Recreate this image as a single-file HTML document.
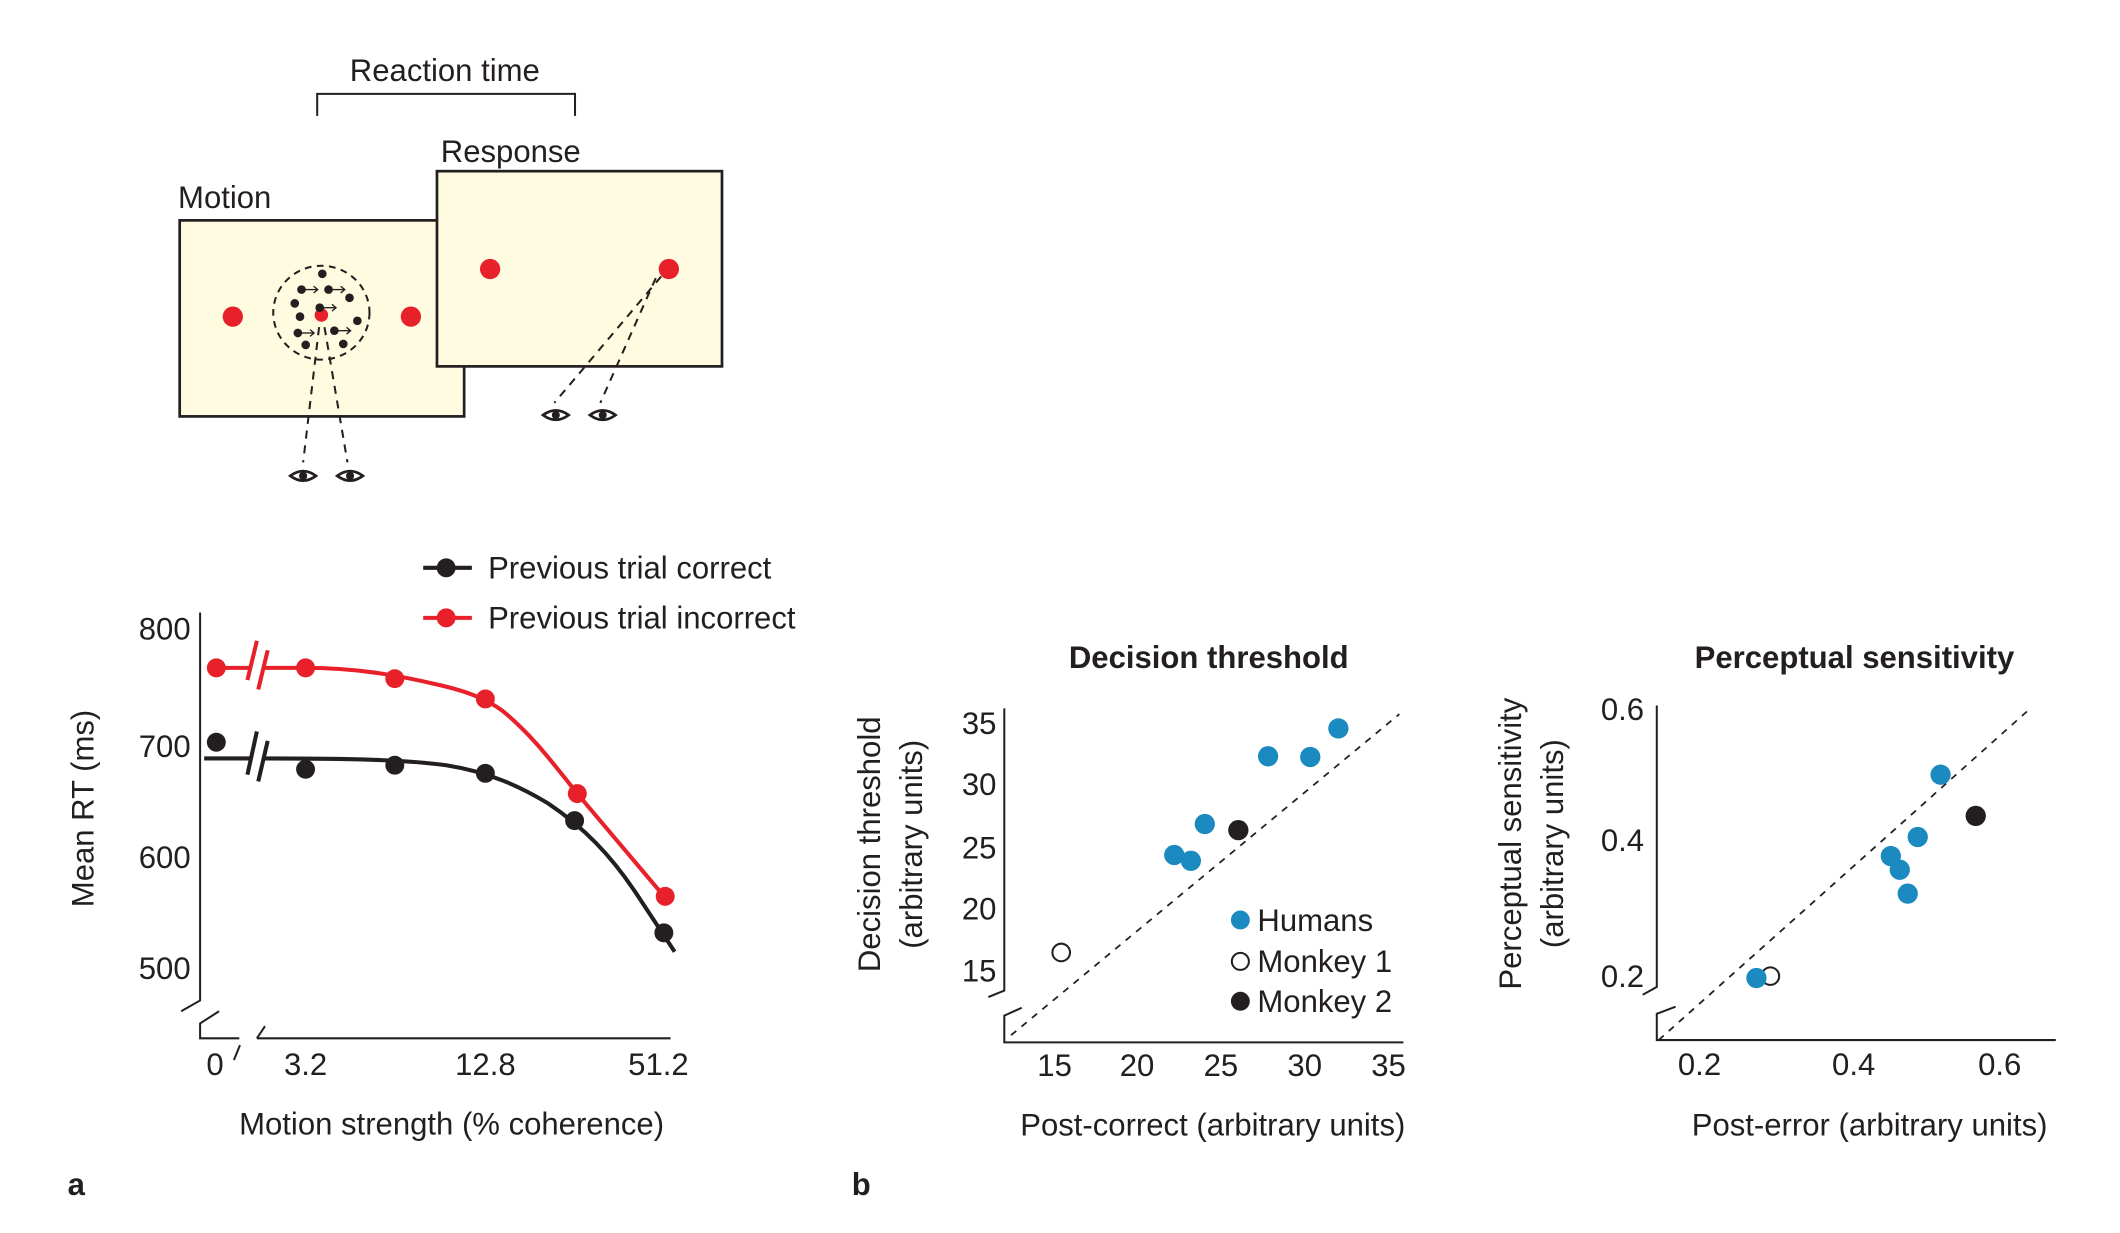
<!DOCTYPE html>
<html><head><meta charset="utf-8"><style>
html,body{margin:0;padding:0;background:#fff;}
svg{display:block;}
text{font-family:"Liberation Sans",sans-serif;fill:#231f20;}
</style></head><body>
<svg width="2120" height="1233" viewBox="0 0 1568 912" preserveAspectRatio="none" xmlns="http://www.w3.org/2000/svg">
<defs>
<g id="eye"><path d="M-9.5,0 Q0,-7 9.5,0 Q0,7 -9.5,0 Z" fill="#fff" stroke="#231f20" stroke-width="2"/><circle r="3" fill="#231f20"/></g>
<g id="arr"><line x1="0" y1="0" x2="10" y2="0" stroke="#231f20" stroke-width="1"/><path d="M7,-2.5 L10,0 L7,2.5" fill="none" stroke="#231f20" stroke-width="1"/></g>
</defs>

<!-- Top diagram -->
<text x="329" y="60" font-size="23" text-anchor="middle">Reaction time</text>
<path d="M234.6,85.7 V69.4 H425.3 V85.7" fill="none" stroke="#231f20" stroke-width="1.5"/>
<text x="131.7" y="154" font-size="23">Motion</text>
<text x="326" y="120" font-size="23">Response</text>
<rect x="132.9" y="163" width="210.4" height="145" fill="#fefbe0" stroke="#231f20" stroke-width="2"/>
<rect x="323.2" y="126.6" width="210.8" height="144.4" fill="#fefbe0" stroke="#231f20" stroke-width="2"/>
<ellipse cx="172.2" cy="234.2" rx="7.5" ry="7.5" fill="#e8202a"/>
<ellipse cx="303.9" cy="234.2" rx="7.5" ry="7.5" fill="#e8202a"/>
<ellipse cx="237.7" cy="231.3" rx="35.6" ry="34.7" fill="none" stroke="#231f20" stroke-width="1.5" stroke-dasharray="5,4"/>
<circle cx="237.7" cy="233" r="5" fill="#e8202a"/>
<g fill="#231f20">
<circle cx="238.4" cy="202.5" r="3.2"/><circle cx="223" cy="214.2" r="3.2"/><circle cx="243" cy="214.2" r="3.2"/>
<circle cx="258.5" cy="220.3" r="3.2"/><circle cx="218" cy="224.4" r="3.2"/><circle cx="236.5" cy="227.6" r="3.2"/>
<circle cx="221.9" cy="234.2" r="3.2"/><circle cx="264.3" cy="237.3" r="3.2"/><circle cx="220.3" cy="246.3" r="3.2"/>
<circle cx="247.3" cy="244.6" r="3.2"/><circle cx="226.1" cy="255.1" r="3.2"/><circle cx="253.9" cy="254.4" r="3.2"/>
</g>
<use href="#arr" x="225" y="214.2"/><use href="#arr" x="245" y="214.2"/><use href="#arr" x="238.5" y="227.6"/>
<use href="#arr" x="222.3" y="246.3"/><use href="#arr" x="249.3" y="244.6"/>
<g stroke="#231f20" stroke-width="1.5" stroke-dasharray="6,5" fill="none">
<line x1="236" y1="242" x2="224.2" y2="342"/><line x1="240" y1="242" x2="257" y2="342"/>
<line x1="489" y1="204.5" x2="410" y2="298"/><line x1="485" y1="205.7" x2="444" y2="298"/>
</g>
<ellipse cx="362.5" cy="199" rx="7.5" ry="7.5" fill="#e8202a"/>
<ellipse cx="494.7" cy="199" rx="7.5" ry="7.5" fill="#e8202a"/>
<use href="#eye" x="224.2" y="352"/><use href="#eye" x="258.9" y="352"/>
<use href="#eye" x="411.1" y="307"/><use href="#eye" x="445.8" y="307"/>

<!-- Panel a -->
<line x1="313" y1="420" x2="349" y2="420" stroke="#231f20" stroke-width="3"/><circle cx="330" cy="420" r="7" fill="#231f20"/>
<text x="361" y="428" font-size="23">Previous trial correct</text>
<line x1="313" y1="457" x2="349" y2="457" stroke="#e8202a" stroke-width="3"/><circle cx="330" cy="457" r="7" fill="#e8202a"/>
<text x="361" y="465" font-size="23">Previous trial incorrect</text>

<g stroke="#231f20" stroke-width="1.5" fill="none">
<path d="M148,453 V740 L134,748"/>
<path d="M162,748 L148,757 V768 H177"/>
<path d="M173,784 L177.5,773"/>
<path d="M190,768 L196,759 M190,768 H496"/>
</g>
<g font-size="23" text-anchor="end">
<text x="141" y="473">800</text><text x="141" y="560">700</text><text x="141" y="642">600</text><text x="141" y="724">500</text>
</g>
<g font-size="23" text-anchor="middle">
<text x="159" y="795">0</text><text x="226" y="795">3.2</text><text x="359" y="795">12.8</text><text x="487" y="795">51.2</text>
<text x="334" y="839">Motion strength (% coherence)</text>
</g>
<text transform="translate(69,598) rotate(-90)" font-size="23" text-anchor="middle">Mean RT (ms)</text>

<g stroke="#e8202a" stroke-width="3" fill="none">
<line x1="160" y1="494" x2="185" y2="494"/>
<path d="M195,494 L226,494 C262,494 292,499 322,506 C345,511 360,517 372,526 C395,545 410,566 427,587 L492,664"/>
<line x1="190" y1="474" x2="183" y2="503"/><line x1="198" y1="481" x2="191" y2="510"/>
</g>
<g fill="#e8202a">
<circle cx="160" cy="494" r="7"/><circle cx="226" cy="494" r="7"/><circle cx="292" cy="502" r="7"/>
<circle cx="359" cy="517" r="7"/><circle cx="427" cy="587" r="7"/><circle cx="492" cy="663" r="7"/>
</g>
<g stroke="#231f20" stroke-width="3" fill="none">
<line x1="151" y1="561" x2="185" y2="561"/>
<path d="M195,561 C260,561 300,562 330,566 C362,571 385,582 405,594 C432,612 452,633 470,660 L499,704"/>
<line x1="190" y1="541" x2="183" y2="573"/><line x1="198" y1="548" x2="191" y2="578"/>
</g>
<g fill="#231f20">
<circle cx="160" cy="549" r="7"/><circle cx="226" cy="569" r="7"/><circle cx="292" cy="566" r="7"/>
<circle cx="359" cy="572" r="7"/><circle cx="425" cy="607" r="7"/><circle cx="491" cy="690" r="7"/>
</g>
<text x="50" y="884" font-size="23" font-weight="bold">a</text>
<text x="630" y="884" font-size="23" font-weight="bold">b</text>

<!-- Panel b1 -->
<text x="894" y="494" font-size="23" font-weight="bold" text-anchor="middle">Decision threshold</text>
<g stroke="#231f20" stroke-width="1.5" fill="none">
<path d="M742.8,524 V732.7 L731,737.5"/>
<path d="M755.7,745.4 L742.8,751.2 V771 H1038"/>
</g>
<line x1="747.8" y1="765.7" x2="1035" y2="528.2" stroke="#231f20" stroke-width="1.3" stroke-dasharray="5,5"/>
<g font-size="23" text-anchor="end">
<text x="737" y="543">35</text><text x="737" y="588">30</text><text x="737" y="635">25</text><text x="737" y="680">20</text><text x="737" y="726">15</text>
</g>
<g font-size="23" text-anchor="middle">
<text x="780" y="796">15</text><text x="841" y="796">20</text><text x="903" y="796">25</text><text x="965" y="796">30</text><text x="1027" y="796">35</text>
<text x="897" y="840">Post-correct (arbitrary units)</text>
</g>
<text transform="translate(651,624.5) rotate(-90)" font-size="23" text-anchor="middle">Decision threshold</text>
<text transform="translate(682,624.5) rotate(-90)" font-size="23" text-anchor="middle">(arbitrary units)</text>
<g fill="#1a8ac0">
<circle cx="989.9" cy="538.8" r="7.5"/><circle cx="937.9" cy="559.4" r="7.5"/><circle cx="969.1" cy="559.9" r="7.5"/>
<circle cx="891.1" cy="609.5" r="7.5"/><circle cx="868.5" cy="632.4" r="7.5"/><circle cx="880.8" cy="636.7" r="7.5"/>
</g>
<circle cx="915.9" cy="614" r="7.5" fill="#231f20"/>
<circle cx="784.9" cy="704.5" r="6.5" fill="#fff" stroke="#231f20" stroke-width="1.5"/>
<circle cx="917.4" cy="680.5" r="7" fill="#1a8ac0"/>
<circle cx="917.4" cy="711.1" r="6.3" fill="#fff" stroke="#231f20" stroke-width="1.5"/>
<circle cx="917.4" cy="740.6" r="7" fill="#231f20"/>
<g font-size="23"><text x="930" y="688.5">Humans</text><text x="930" y="719">Monkey 1</text><text x="930" y="748.5">Monkey 2</text></g>

<!-- Panel b2 -->
<text x="1371.6" y="494" font-size="23" font-weight="bold" text-anchor="middle">Perceptual sensitivity</text>
<g stroke="#231f20" stroke-width="1.5" fill="none">
<path d="M1225.4,521.8 V730 L1215,735.8"/>
<path d="M1239.3,744.6 L1225.4,749.9 V769.3 H1520.5"/>
</g>
<line x1="1226.8" y1="769.3" x2="1502.7" y2="523.1" stroke="#231f20" stroke-width="1.3" stroke-dasharray="5,5"/>
<g font-size="23" text-anchor="end">
<text x="1216" y="532.5">0.6</text><text x="1216" y="629.5">0.4</text><text x="1216" y="730">0.2</text>
</g>
<g font-size="23" text-anchor="middle">
<text x="1257" y="795">0.2</text><text x="1371" y="795">0.4</text><text x="1479" y="795">0.6</text>
<text x="1382.8" y="840">Post-error (arbitrary units)</text>
</g>
<text transform="translate(1125,624) rotate(-90)" font-size="23" text-anchor="middle">Perceptual sensitivity</text>
<text transform="translate(1156,624) rotate(-90)" font-size="23" text-anchor="middle">(arbitrary units)</text>
<circle cx="1309.4" cy="722" r="6.5" fill="#fff" stroke="#231f20" stroke-width="1.5"/>
<g fill="#1a8ac0">
<circle cx="1435.3" cy="573" r="7.5"/><circle cx="1418.4" cy="619.1" r="7.5"/><circle cx="1398.5" cy="633.2" r="7.5"/>
<circle cx="1405.1" cy="643.3" r="7.5"/><circle cx="1411" cy="661" r="7.5"/><circle cx="1299.1" cy="723.4" r="7.5"/>
</g>
<circle cx="1461.3" cy="603.5" r="7.5" fill="#231f20"/>
</svg>
</body></html>
